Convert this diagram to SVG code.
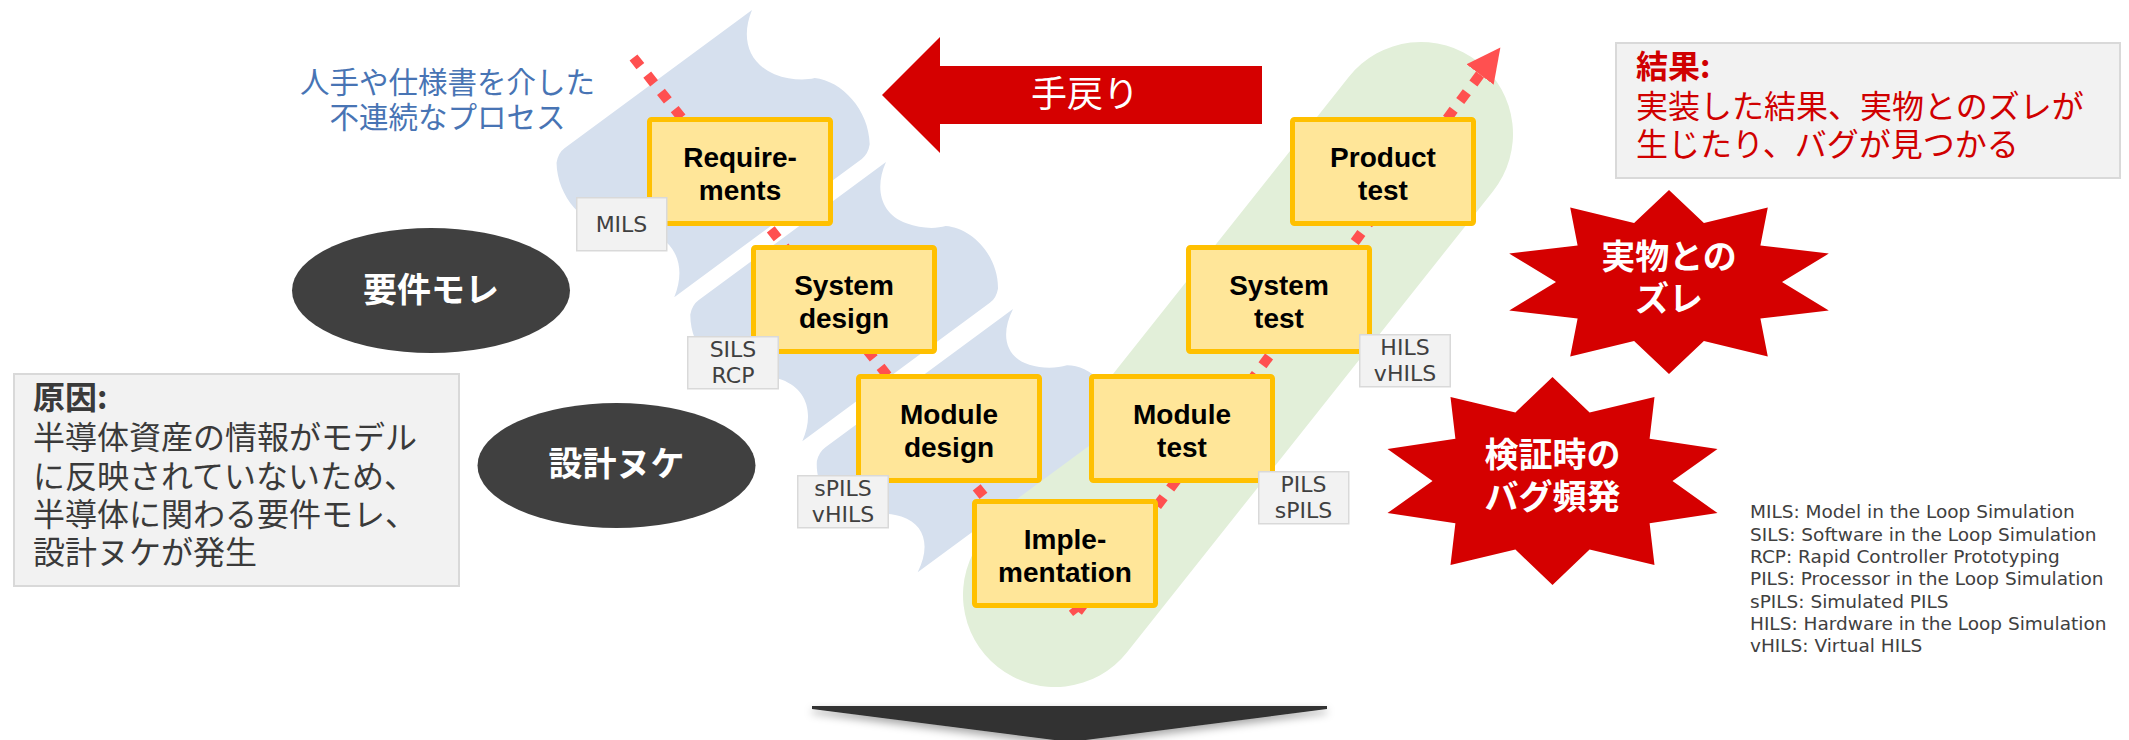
<svg xmlns="http://www.w3.org/2000/svg" xmlns:xlink="http://www.w3.org/1999/xlink" width="2129" height="740" viewBox="0 0 2129 740">
<style>
.box rect{fill:#FFE699;stroke:#FFC000;stroke-width:5}
.box text{font-family:"Liberation Sans",Arial,sans-serif;font-weight:bold;font-size:28px;fill:#000;text-anchor:middle}
.tag rect{fill:#F2F2F2;stroke:#D9D9D9;stroke-width:1.5}
.tag text{font-family:"DejaVu Sans",Verdana,sans-serif;font-size:22px;fill:#404040;text-anchor:middle}
.jp{font-family:"Noto Sans CJK JP","Noto Sans",sans-serif}
.ell ellipse{fill:#404040}
.ell text,.star text{font-family:"Noto Sans CJK JP",sans-serif;font-weight:bold;font-size:34px;fill:#fff;text-anchor:middle}
.star polygon{fill:#D50000}
.note rect{fill:#F2F2F2;stroke:#D9D9D9;stroke-width:2}
.wave{fill:#D6E0EE}
.legend text{font-family:"DejaVu Sans",Verdana,sans-serif;font-size:18.5px;fill:#404040}
</style>
<defs>
<path id="wave" d="M0,0 C-25,15 -35,40 -20,65 C-12,78 0,88 10,92 C30,110 35,150 15,178 Q8,185 0,185 L-233,185 C-208,170 -198,145 -213,120 C-221,107 -233,97 -243,93 C-263,75 -268,35 -248,7 Q-241,0 -233,0 Z"/>
<marker id="ah" markerUnits="userSpaceOnUse" markerWidth="34" markerHeight="34" refX="0" refY="16" orient="auto-start-reverse" viewBox="0 0 32 32">
<path d="M0,0 L32,16 L0,32 Z" fill="#FF5050"/>
</marker>
<filter id="sh" x="-10%" y="-60%" width="120%" height="260%">
<feDropShadow dx="0" dy="4" stdDeviation="4" flood-color="#000" flood-opacity="0.35"/>
</filter>
</defs>
<rect width="2129" height="740" fill="#fff"/>

<g id="test-band">
<line x1="1055" y1="595" x2="1421" y2="134" stroke="#E2EFD9" stroke-width="184" stroke-linecap="round"/>
</g>
<g id="design-band">
<use xlink:href="#wave" class="wave" transform="translate(752,10) rotate(-36.4)"/>
<use xlink:href="#wave" class="wave" transform="translate(886,162) rotate(-36.4) scale(1,0.946)"/>
<use xlink:href="#wave" class="wave" transform="translate(1013,309) rotate(-36.4) scale(1,0.84)"/>
</g>

<g id="connectors" fill="none" stroke="#FF5050" stroke-width="10" stroke-dasharray="11 11">
<path d="M633.5,57.5 L1077,613"/>
<path d="M1480,74.6 L1077,613" marker-start="url(#ah)"/>
</g>

<g id="note-discontinuous" class="jp" font-size="29.5" fill="#4874B4" text-anchor="middle">
<text x="447.5" y="93">人手や仕様書を介した</text>
<text x="447.5" y="128">不連続なプロセス</text>
</g>

<g id="rework-arrow">
<polygon points="882,95 940,37 940,66 1262,66 1262,124 940,124 940,153" fill="#D50000"/>
<text class="jp" x="1085" y="107" font-size="36" fill="#fff" text-anchor="middle">手戻り</text>
</g>

<g id="requirements" class="box"><rect x="649.5" y="119.5" width="181" height="104" rx="2"/><text x="740" y="167">Require-</text><text x="740" y="200">ments</text></g>
<g id="system-design" class="box"><rect x="753.5" y="247.5" width="181" height="104" rx="2"/><text x="844" y="295">System</text><text x="844" y="328">design</text></g>
<g id="module-design" class="box"><rect x="858.5" y="376.5" width="181" height="104" rx="2"/><text x="949" y="424">Module</text><text x="949" y="457">design</text></g>
<g id="implementation" class="box"><rect x="974.5" y="501.5" width="181" height="104" rx="2"/><text x="1065" y="549">Imple-</text><text x="1065" y="582">mentation</text></g>
<g id="module-test" class="box"><rect x="1091.5" y="376.5" width="181" height="104" rx="2"/><text x="1182" y="424">Module</text><text x="1182" y="457">test</text></g>
<g id="system-test" class="box"><rect x="1188.5" y="247.5" width="181" height="104" rx="2"/><text x="1279" y="295">System</text><text x="1279" y="328">test</text></g>
<g id="product-test" class="box"><rect x="1292.5" y="119.5" width="181" height="104" rx="2"/><text x="1383" y="167">Product</text><text x="1383" y="200">test</text></g>

<g id="tag-mils" class="tag"><rect x="576.75" y="197.75" width="90" height="53"/><text x="621.5" y="232">MILS</text></g>
<g id="tag-sils" class="tag"><rect x="687.75" y="336.75" width="90.5" height="52"/><text x="733" y="357">SILS</text><text x="733" y="383">RCP</text></g>
<g id="tag-spils" class="tag"><rect x="797.75" y="475.75" width="90.5" height="52"/><text x="843" y="496">sPILS</text><text x="843" y="522">vHILS</text></g>
<g id="tag-pils" class="tag"><rect x="1258.75" y="471.75" width="90" height="52"/><text x="1303.5" y="492">PILS</text><text x="1303.5" y="518">sPILS</text></g>
<g id="tag-hils" class="tag"><rect x="1359.75" y="334.75" width="90.5" height="52"/><text x="1405" y="355">HILS</text><text x="1405" y="381">vHILS</text></g>

<g id="missing-req" class="ell"><ellipse cx="431" cy="290.5" rx="139" ry="62.5"/><text x="431" y="302">要件モレ</text></g>
<g id="design-gap" class="ell"><ellipse cx="616.5" cy="465.5" rx="139" ry="62.5"/><text x="616.5" y="476">設計ヌケ</text></g>

<g id="cause" class="note">
<rect x="14" y="374" width="445" height="212"/>
<g class="jp" font-size="32" fill="#3A3A3A">
<text x="33" y="409" font-weight="bold">原因:</text>
<text x="33" y="449">半導体資産の情報がモデル</text>
<text x="33" y="487.5">に反映されていないため、</text>
<text x="33" y="526">半導体に関わる要件モレ、</text>
<text x="33" y="564">設計ヌケが発生</text>
</g>
</g>

<g id="result" class="note">
<rect x="1616" y="43" width="504" height="135"/>
<g class="jp" font-size="32" fill="#D00000">
<text x="1636" y="78" font-weight="bold">結果:</text>
<text x="1636" y="118">実装した結果、実物とのズレが</text>
<text x="1636" y="156">生じたり、バグが見つかる</text>
</g>
</g>

<g id="mismatch" class="star">
<polygon points="1669,190 1703.9,223 1767.8,207.6 1760.4,245.5 1828.8,253.6 1782,282 1828.8,310.4 1760.4,318.5 1767.8,356.4 1703.9,341 1669,374 1634.1,341 1570.2,356.4 1577.6,318.5 1509.2,310.4 1556,282 1509.2,253.6 1577.6,245.5 1570.2,207.6 1634.1,223"/>
<text x="1669" y="269">実物との</text>
<text x="1669" y="311">ズレ</text>
</g>
<g id="bugs" class="star">
<polygon points="1552.5,377 1589.6,412.5 1654.5,396.9 1649.6,438.7 1717.5,448.9 1672.5,481 1717.5,513.1 1649.6,523.3 1654.5,565.1 1589.6,549.5 1552.5,585 1515.4,549.5 1450.5,565.1 1455.4,523.3 1387.5,513.1 1432.5,481 1387.5,448.9 1455.4,438.7 1450.5,396.9 1515.4,412.5"/>
<text x="1552.5" y="467">検証時の</text>
<text x="1552.5" y="509">バグ頻発</text>
</g>

<g id="legend" class="legend">
<text x="1750" y="518.3">MILS: Model in the Loop Simulation</text>
<text x="1750" y="540.6">SILS: Software in the Loop Simulation</text>
<text x="1750" y="563">RCP: Rapid Controller Prototyping</text>
<text x="1750" y="585.3">PILS: Processor in the Loop Simulation</text>
<text x="1750" y="607.6">sPILS: Simulated PILS</text>
<text x="1750" y="630">HILS: Hardware in the Loop Simulation</text>
<text x="1750" y="652.3">vHILS: Virtual HILS</text>
</g>

<g id="down-arrow">
<polygon points="812,706 1327,706 1327,709 1070,742 812,709" fill="#333333" filter="url(#sh)"/>
</g>
</svg>
